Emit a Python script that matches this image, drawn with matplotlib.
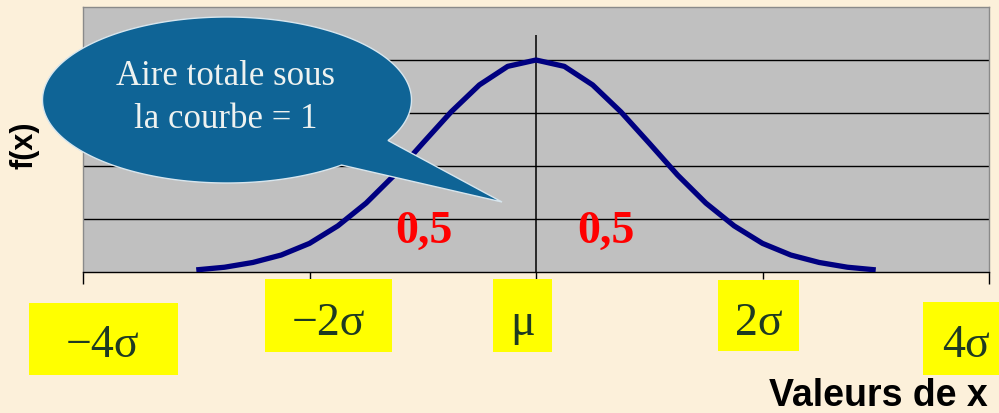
import numpy as np
import matplotlib
matplotlib.use("Agg")
import matplotlib.pyplot as plt
from matplotlib.patches import Rectangle, Polygon

# Density curve f(x), x expressed in units of sigma around the mean
curve_x = [-3.0, -2.75, -2.5, -2.25, -2.0, -1.75, -1.5, -1.25, -1.0, -0.75, -0.5, -0.25,
           0.0, 0.25, 0.5, 0.75, 1.0, 1.25, 1.5, 1.75, 2.0, 2.25, 2.5, 2.75, 3.0]
curve_y = [0.04, 0.09, 0.18, 0.32, 0.54, 0.87, 1.30, 1.83, 2.43, 3.02, 3.53, 3.88,
           4.00, 3.88, 3.53, 3.02, 2.43, 1.83, 1.30, 0.87, 0.54, 0.32, 0.18, 0.09, 0.04]

tick_values = [-4, -2, 0, 2, 4]
tick_labels = ["\u22124\u03c3", "\u22122\u03c3", "\u03bc", "2\u03c3", "4\u03c3"]
grid_levels = [1, 2, 3, 4]
half_area_labels = ["0,5", "0,5"]
callout_lines = ["Aire totale sous", "la courbe = 1"]

W, H = 999, 414
BG = "#fcf0da"
PANEL = "#c0c0c0"
CURVE = "#000080"
BOX = "#ffff00"
LABEL_INK = "#1e3a22"
CALLOUT = "#0f6496"

fig = plt.figure(figsize=(W / 100, H / 100), dpi=100)
fig.patch.set_facecolor(BG)


def fx(px):
    return px / W


def fy(py):
    return 1 - py / H


ax = fig.add_axes([fx(83), fy(273), fx(989) - fx(83), fy(8) - fy(273)])
ax.set_facecolor(PANEL)
ax.set_xlim(-4, 4)
ax.set_ylim(0, 5)

for lvl in grid_levels:
    ax.axhline(lvl, color="black", lw=1.0, zorder=1)

ax.vlines(0, 0, 4.47, color="black", lw=1.1, zorder=1)
ax.plot(curve_x, curve_y, color=CURVE, lw=3.8, solid_capstyle="butt",
        solid_joinstyle="round", zorder=3)

for side in ("top", "left", "right"):
    ax.spines[side].set_color("#8a8a8a")
    ax.spines[side].set_linewidth(1.0)
ax.spines["bottom"].set_color("black")
ax.spines["bottom"].set_linewidth(1.0)

ax.set_yticks([])
ax.set_xticks([tick_values[0], tick_values[-1]])
ax.set_xticks(tick_values[1:-1], minor=True)
ax.tick_params(axis="x", which="major", direction="out", length=8.5, width=1.0,
               color="black", labelbottom=False)
ax.tick_params(axis="x", which="minor", direction="out", length=5, width=1.0,
               color="black", labelbottom=False)

# Half-area labels either side of the mean
ax.text(-0.74, 0.57, half_area_labels[0], ha="right", va="baseline", color="#ff0000",
        fontsize=33, fontweight="bold", family="Liberation Serif", zorder=4)
ax.text(0.36, 0.57, half_area_labels[1], ha="left", va="baseline", color="#ff0000",
        fontsize=33, fontweight="bold", family="Liberation Serif", zorder=4)

# Yellow tick-label boxes: offset of box centre from tick (px), width, top, bottom, baseline
box_dx = [20, 19, -14, -4, -24]
box_w = [149, 127, 59, 81, 84]
box_top = [304, 280, 280, 281, 303]
box_bot = [376, 353, 353, 352, 376]
box_base = [357, 335, 335, 335, 357]
text_dx = [0, 0, 1, 0, 1]

fig.canvas.draw()
for val, lab, dx, bw, top, bot, base, tdx in zip(tick_values, tick_labels, box_dx, box_w,
                                                  box_top, box_bot, box_base, text_dx):
    tick_px = ax.transData.transform((val, 0))[0]
    cx = tick_px + dx
    fig.patches.append(Rectangle((fx(cx - bw / 2), fy(bot)), bw / W, (bot - top) / H,
                                 transform=fig.transFigure, facecolor=BOX,
                                 edgecolor="none", zorder=2))
    fig.text(fx(cx + tdx), fy(base), lab, ha="center", va="baseline", color=LABEL_INK,
             fontsize=33, family="Liberation Serif", zorder=3)

# Callout bubble: ellipse with a pointer toward the curve
ecx, ecy, ea, eb = 227, 101, 184.5, 83
tip = (502, 203)
upper_join = (390, 142)
lower_join = (345, 168)
t_up = np.arctan2((upper_join[1] - ecy) / eb, (upper_join[0] - ecx) / ea)
t_lo = np.arctan2((lower_join[1] - ecy) / eb, (lower_join[0] - ecx) / ea)
theta = np.linspace(t_lo, t_up + 2 * np.pi, 400)
pts = [(fx(ecx + ea * np.cos(t)), fy(ecy + eb * np.sin(t))) for t in theta]
pts.append((fx(tip[0]), fy(tip[1])))
fig.patches.append(Polygon(pts, closed=True, transform=fig.transFigure,
                           facecolor=CALLOUT, edgecolor="#d8e6ee", lw=1.0, zorder=5))
fig.text(fx(226), fy(85), callout_lines[0], ha="center", va="baseline", color="#eef2f0",
         fontsize=25, family="Liberation Serif", zorder=6)
fig.text(fx(226), fy(128), callout_lines[1], ha="center", va="baseline", color="#eef2f0",
         fontsize=25, family="Liberation Serif", zorder=6)

# Axis titles
fig.text(fx(25), fy(145), "f(x)", rotation=90, ha="center", va="center", color="black",
         fontsize=22, fontweight="bold", family="Liberation Sans")
fig.text(fx(988), fy(406), "Valeurs de x", ha="right", va="baseline", color="black",
         fontsize=27, fontweight="bold", family="Liberation Sans")

fig.savefig("out.png", dpi=100, facecolor=BG)
